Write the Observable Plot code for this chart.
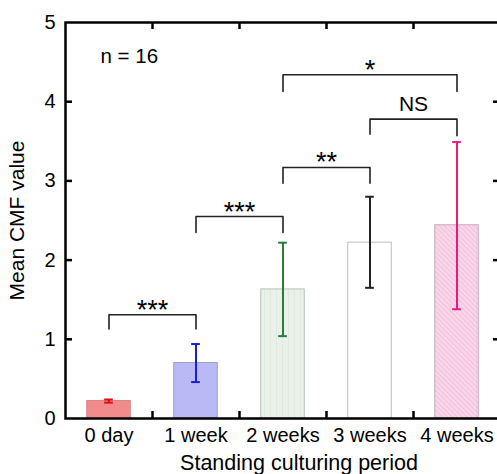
<!DOCTYPE html>
<html><head><meta charset="utf-8">
<script src="https://cdn.jsdelivr.net/npm/d3@7"></script>
<script src="https://cdn.jsdelivr.net/npm/@observablehq/plot@0.6"></script>
<style>body{margin:0;background:#fff} svg{display:block}</style>
</head><body><div id="chart"></div>
<script>
// ---- data ----
const categories = ["0 day", "1 week", "2 weeks", "3 weeks", "4 weeks"];
const means   = [0.22, 0.70, 1.63, 2.22, 2.44];
const errLow  = [0.20, 0.46, 1.04, 1.65, 1.38];
const errHigh = [0.24, 0.94, 2.22, 2.80, 3.49];
const yTicks = [0, 1, 2, 3, 4, 5];

const barFills   = ["#f28c8c", "#b9b9f5", "url(#vlines)", "#ffffff", "url(#hatch)"];
const barStrokes = ["#d98080", "#9c9cd2", "#b7c2b7", "#bdbdbd", "#c9a9b9"];
const errColors  = ["#e01010", "#1c1cd0", "#2a7d35", "#222222", "#ea1a80"];

// significance brackets (category index from / to, heights in y units)
const brFrom     = [0, 1, 2, 3, 2];
const brTo       = [1, 2, 3, 4, 4];
const brTop      = [1.31, 2.55, 3.17, 3.78, 4.34];
const brLegFrom  = [1.13, 2.35, 2.97, 3.59, 4.13];
const brLegTo    = [1.13, 2.35, 2.97, 3.57, 4.13];
const brLabels   = ["***", "***", "**", "NS", "*"];
const nLabel = "n = 16";
const xTitle = "Standing culturing period";
const yTitle = "Mean CMF value";

// ---- build ----
const data = categories.map((c, i) => ({i, c, mean: means[i], lo: errLow[i], hi: errHigh[i],
  fill: barFills[i], stroke: barStrokes[i], err: errColors[i]}));
const brackets = brFrom.map((a, k) => ({k, a, b: brTo[k], top: brTop[k], la: brLegFrom[k], lb: brLegTo[k], label: brLabels[k]}));
const bracketPts = brackets.flatMap(d => [
  {k: d.k, x: d.a, y: d.la}, {k: d.k, x: d.a, y: d.top},
  {k: d.k, x: d.b, y: d.top}, {k: d.k, x: d.b, y: d.lb}]);
const boundaries = categories.slice(1).map((_, i) => i + 0.5);
const innerTicks = yTicks.slice(1, -1);

const W = 497, H = 474, mL = 65, mR = -3, mT = 22, mB = 56;
const fw = W - mL - mR, fh = H - mT - mB, tick = 7;
const halfBar = 0.25, cap = 0.05;

const chart = Plot.plot({
  width: W, height: H,
  marginLeft: mL, marginRight: mR, marginTop: mT, marginBottom: mB,
  style: {fontFamily: "'Liberation Sans', Arial, sans-serif", fontSize: "20px", color: "#000", background: "#fff"},
  x: {domain: [-0.5, categories.length - 0.5], range: [mL, W - mR]},
  y: {domain: [0, 5], range: [H - mB, mT]},
  color: {type: "identity"},
  marks: [
    Plot.rectY(data, {x1: d => d.i - halfBar, x2: d => d.i + halfBar, y1: 0, y2: "mean",
      fill: "fill", stroke: "stroke", strokeWidth: 1}),
    Plot.ruleX(data, {x: "i", y1: "lo", y2: "hi", stroke: "err", strokeWidth: 2}),
    Plot.ruleY(data, {y: "lo", x1: d => d.i - cap, x2: d => d.i + cap, stroke: "err", strokeWidth: 2}),
    Plot.ruleY(data, {y: "hi", x1: d => d.i - cap, x2: d => d.i + cap, stroke: "err", strokeWidth: 2}),
    Plot.line(bracketPts, {x: "x", y: "y", z: "k", stroke: "#222", strokeWidth: 1.6}),
    Plot.text(brackets.filter(d => d.label.startsWith("*")), {x: d => (d.a + d.b) / 2, y: "top", text: "label",
      lineAnchor: "bottom", dy: 4, fontSize: 27}),
    Plot.text(brackets.filter(d => !d.label.startsWith("*")), {x: d => (d.a + d.b) / 2, y: "top", text: "label",
      lineAnchor: "bottom", dy: -8, fontSize: 21}),
    Plot.text([nLabel], {frameAnchor: "top-left", textAnchor: "start", lineAnchor: "bottom", dx: 35, dy: 40, fontSize: 20.5}),
    // frame & ticks
    Plot.frame({stroke: "#000", strokeWidth: 2.5}),
    Plot.ruleY(innerTicks, {insetRight: fw - tick, stroke: "#000", strokeWidth: 2.5}),
    Plot.ruleY(innerTicks, {insetLeft: fw - tick, stroke: "#000", strokeWidth: 2.5}),
    Plot.ruleX(boundaries, {insetTop: fh - tick, stroke: "#000", strokeWidth: 2.5}),
    Plot.ruleX(boundaries, {insetBottom: fh - tick, stroke: "#000", strokeWidth: 2.5}),
    Plot.axisY({ticks: yTicks, tickFormat: "d", tickSize: 0, tickPadding: 10, fontSize: 20, label: null}),
    Plot.axisX({ticks: categories.map((_, i) => i), tickFormat: i => categories[i], tickSize: 0, tickPadding: 9, fontSize: 20, label: null}),
    Plot.text([yTitle], {frameAnchor: "left", textAnchor: "middle", rotate: -90, dx: -48, fontSize: 21}),
    Plot.text([xTitle], {frameAnchor: "bottom", textAnchor: "middle", lineAnchor: "bottom", dx: 16, dy: 51, fontSize: 21.5})
  ]
});

chart.insertAdjacentHTML("afterbegin", `<defs>
  <pattern id="hatch" width="3.5" height="3.5" patternUnits="userSpaceOnUse" patternTransform="rotate(-45)">
    <rect width="3.5" height="3.5" fill="#f8d6e8"/>
    <line x1="0" y1="0" x2="0" y2="3.5" stroke="#eeb0d0" stroke-width="1.1"/>
  </pattern>
  <pattern id="vlines" width="6" height="6" patternUnits="userSpaceOnUse">
    <rect width="6" height="6" fill="#e9f1ea"/>
    <line x1="0.5" y1="0" x2="0.5" y2="6" stroke="#dfe9df" stroke-width="1"/>
  </pattern>
</defs>`);
document.getElementById("chart").appendChild(chart);
</script>
</body></html>
